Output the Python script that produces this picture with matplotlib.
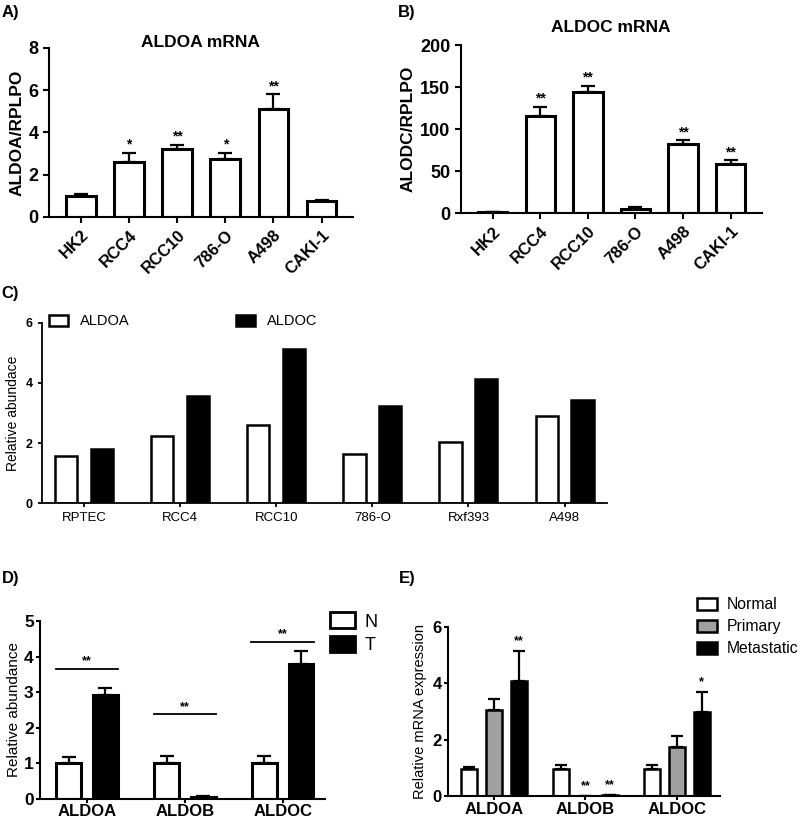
import numpy as np
import matplotlib
matplotlib.use("Agg")
import matplotlib.pyplot as plt

plt.rcParams['font.family'] = ['Liberation Sans', 'DejaVu Sans']
NARROW = ['Liberation Sans Narrow', 'Liberation Sans', 'DejaVu Sans']

# Panel A / B data
cell_lines = ['HK2', 'RCC4', 'RCC10', '786-O', 'A498', 'CAKI-1']
aldoa_vals = [0.97, 2.6, 3.24, 2.75, 5.12, 0.75]
aldoa_err = [0.1, 0.43, 0.18, 0.28, 0.68, 0.05]
aldoa_stars = ['', '*', '**', '*', '**', '']
aldoc_vals = [0.8, 116, 144, 4.5, 82, 59]
aldoc_err = [0.3, 11, 8, 2.5, 5, 4]
aldoc_stars = ['', '**', '**', '', '**', '**']

# Panel C data
c_lines = ['RPTEC', 'RCC4', 'RCC10', '786-O', 'Rxf393', 'A498']
c_aldoa = [1.58, 2.25, 2.59, 1.62, 2.04, 2.89]
c_aldoc = [1.79, 3.57, 5.12, 3.22, 4.13, 3.42]

# Panel D data
genes = ['ALDOA', 'ALDOB', 'ALDOC']
d_n = [1.0, 1.0, 1.0]
d_n_err = [0.17, 0.2, 0.2]
d_t = [2.91, 0.05, 3.8]
d_t_err = [0.2, 0.02, 0.36]
d_sig_y = [3.66, 2.38, 4.42]

# Panel E data
e_normal = [0.97, 0.97, 0.97]
e_normal_err = [0.08, 0.13, 0.13]
e_primary = [3.05, 0.01, 1.75]
e_primary_err = [0.38, 0.0, 0.38]
e_primary_stars = ['', '**', '']
e_meta = [4.07, 0.05, 2.99]
e_meta_err = [1.09, 0.01, 0.72]
e_meta_stars = ['**', '**', '*']

fig = plt.figure(figsize=(8, 8.26), dpi=100)


def style_axes(ax, lw=1.5, length=4):
    for s in ['top', 'right']:
        ax.spines[s].set_visible(False)
    for s in ['left', 'bottom']:
        ax.spines[s].set_linewidth(lw)
    ax.tick_params(width=lw, length=length)


def up_err(err):
    return [np.zeros(len(err)), err]


def mrna_panel(ax, vals, err, stars, title, title_y, ylabel, ymax, yticks, star_off):
    x = np.arange(len(cell_lines))
    ax.bar(x, vals, 0.62, color='white', edgecolor='black', linewidth=2.2,
           yerr=up_err(err), capsize=5, error_kw=dict(elinewidth=1.6, capthick=1.6))
    for i, s in enumerate(stars):
        if s:
            ax.text(x[i], vals[i] + err[i] + star_off, s, ha='center', va='bottom',
                    fontsize=10, fontweight='bold')
    ax.set_xlim(-0.67, 5.65)
    ax.set_ylim(0, ymax)
    ax.set_yticks(yticks)
    ax.set_xticks(x)
    ax.set_xticklabels(cell_lines, rotation=45, ha='right', rotation_mode='anchor',
                       fontsize=12, fontweight='bold')
    for lab in ax.get_yticklabels():
        lab.set_fontsize(13)
        lab.set_fontweight('bold')
    ax.set_ylabel(ylabel, fontsize=12.5, fontweight='bold', labelpad=3)
    ax.text(0.5, title_y, title, transform=ax.transAxes, ha='center', va='center',
            fontsize=12.5, fontweight='bold')
    style_axes(ax)


axA = fig.add_axes([0.061, 0.7373, 0.38, 0.2046])
mrna_panel(axA, aldoa_vals, aldoa_err, aldoa_stars, 'ALDOA mRNA', 1.03, 'ALDOA/RPLPO',
           8, [0, 2, 4, 6, 8], 0.05)

axB = fig.add_axes([0.576, 0.742, 0.376, 0.203])
mrna_panel(axB, aldoc_vals, aldoc_err, aldoc_stars, 'ALDOC mRNA', 1.107, 'ALODC/RPLPO',
           200, [0, 50, 100, 150, 200], 1)

# Panel C
axC = fig.add_axes([0.0525, 0.391, 0.706, 0.218])
xc = np.arange(len(c_lines))
axC.bar(xc - 0.187, c_aldoa, 0.23, color='white', edgecolor='black', linewidth=1.8,
        label='ALDOA')
axC.bar(xc + 0.187, c_aldoc, 0.23, color='black', edgecolor='black', linewidth=1.8,
        label='ALDOC')
axC.set_xlim(-0.44, 5.44)
axC.set_ylim(0, 6)
axC.set_yticks([0, 2, 4, 6])
axC.set_xticks(xc)
axC.set_xticklabels(c_lines, fontsize=9.5, family=NARROW)
for lab in axC.get_yticklabels():
    lab.set_fontsize(9)
    lab.set_family(NARROW)
    lab.set_fontweight('bold')
axC.set_ylabel('Relative abundace', fontsize=10)
style_axes(axC, 1.3, 3)
axC.legend(ncol=2, loc='center left', bbox_to_anchor=(0.013, 1.01), frameon=False,
           prop={'family': NARROW, 'size': 10.5}, columnspacing=7.3,
           borderpad=0, borderaxespad=0,
           handlelength=1.3, handleheight=0.8, handletextpad=0.8)

# Panel D
axD = fig.add_axes([0.05, 0.033, 0.356, 0.215])
xd = np.arange(len(genes))
ekw = dict(elinewidth=1.6, capthick=1.6)
axD.bar(xd - 0.187, d_n, 0.255, color='white', edgecolor='black', linewidth=2.2,
        yerr=up_err(d_n_err), capsize=5, error_kw=ekw, label='N')
axD.bar(xd + 0.187, d_t, 0.255, color='black', edgecolor='black', linewidth=2.2,
        yerr=up_err(d_t_err), capsize=5, error_kw=ekw, label='T')
for i, yv in enumerate(d_sig_y):
    axD.plot([xd[i] - 0.32, xd[i] + 0.32], [yv, yv], color='black', lw=1.3)
    axD.text(xd[i], yv + 0.04, '**', ha='center', va='bottom', fontsize=9,
             fontweight='bold')
axD.set_xlim(-0.48, 2.43)
axD.set_ylim(0, 5)
axD.set_xticks(xd)
axD.set_xticklabels(genes, fontsize=12, fontweight='bold')
for lab in axD.get_yticklabels():
    lab.set_fontsize(12.5)
    lab.set_family(NARROW)
    lab.set_fontweight('bold')
axD.set_ylabel('Relative abundance', fontsize=11, labelpad=2)
style_axes(axD, 1.5, 3)
axD.tick_params(axis='x', pad=1)
axD.tick_params(axis='y', pad=1.5)
axD.legend(loc='upper left', bbox_to_anchor=(1.018, 1.05), frameon=False,
           borderpad=0, borderaxespad=0,
           prop={'family': NARROW, 'size': 13}, handlelength=1.4, handleheight=1.0,
           handletextpad=0.5, labelspacing=0.3)
for h in axD.get_legend().get_patches():
    h.set_linewidth(2)

# Panel E
axE = fig.add_axes([0.56, 0.036, 0.34, 0.205])
xe = np.arange(len(genes))
w = 0.175
axE.bar(xe - 0.27, e_normal, w, color='white', edgecolor='black', linewidth=1.8,
        yerr=up_err(e_normal_err), capsize=4, error_kw=ekw, label='Normal')
axE.bar(xe, e_primary, w, color='#a0a0a0', edgecolor='black', linewidth=1.8,
        yerr=up_err(e_primary_err), capsize=4, error_kw=ekw, label='Primary')
axE.bar(xe + 0.27, e_meta, w, color='black', edgecolor='black', linewidth=1.8,
        yerr=up_err(e_meta_err), capsize=4, error_kw=ekw, label='Metastatic')
for i in range(3):
    if e_primary_stars[i]:
        axE.text(xe[i], e_primary[i] + e_primary_err[i] + 0.12, e_primary_stars[i],
                 ha='center', va='bottom', fontsize=9, fontweight='bold')
    if e_meta_stars[i]:
        axE.text(xe[i] + 0.27, e_meta[i] + e_meta_err[i] + 0.12, e_meta_stars[i],
                 ha='center', va='bottom', fontsize=9, fontweight='bold')
axE.set_xlim(-0.5, 2.47)
axE.set_ylim(0, 6)
axE.set_yticks([0, 2, 4, 6])
axE.set_xticks(xe)
axE.set_xticklabels(genes, fontsize=12, fontweight='bold')
for lab in axE.get_yticklabels():
    lab.set_fontsize(12)
    lab.set_fontweight('bold')
axE.set_ylabel('Relative mRNA expression', fontsize=10.5, labelpad=4)
style_axes(axE, 1.5, 3)
axE.tick_params(axis='x', pad=1)
axE.tick_params(axis='y', pad=1.5)
axE.legend(loc='upper left', bbox_to_anchor=(0.915, 1.175), frameon=False,
           borderpad=0, borderaxespad=0,
           fontsize=11.3, handlelength=1.3, handleheight=0.8, handletextpad=0.6,
           labelspacing=0.45)

# panel letters
for txt, x, y in [('A)', 0.002, 0.985), ('B)', 0.497, 0.985), ('C)', 0.002, 0.645),
                  ('D)', 0.002, 0.3), ('E)', 0.499, 0.3)]:
    fig.text(x, y, txt, fontsize=12, fontweight='bold', va='center', ha='left')

fig.savefig('out.png', dpi=100)
